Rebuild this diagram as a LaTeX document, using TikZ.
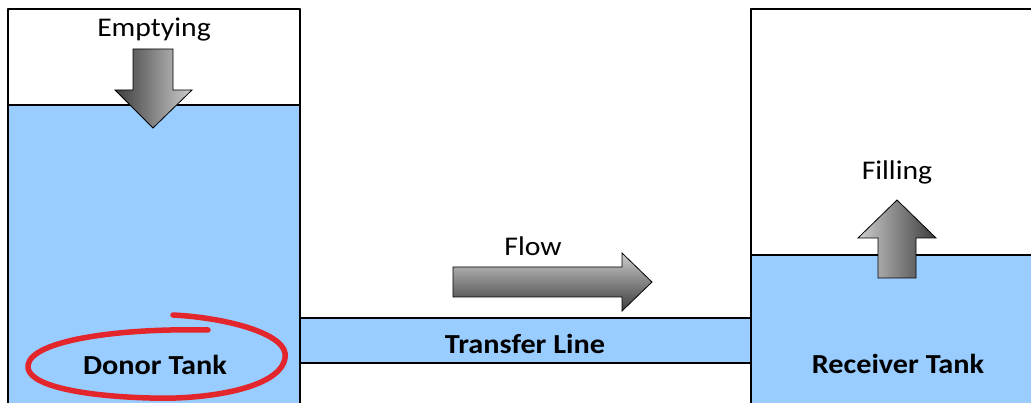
\documentclass[tikz,border=0pt]{standalone}
\usepackage{fontspec}
\setmainfont{Carlito}[FakeStretch=1.1]
\definecolor{water}{HTML}{99CCFF}
\definecolor{ringred}{HTML}{E3262B}
\definecolor{shadedark}{HTML}{3C3C3C}
\definecolor{shadelight}{HTML}{CDCDCD}
\tikzset{
  tankwall/.style={draw=black, line width=1.4pt},
  fatarrow/.style={draw=black, line width=0.8pt, line join=miter},
  label/.style={font=\fontsize{27}{31}\selectfont, anchor=base, inner sep=0pt},
  tankname/.style={font=\fontsize{27.5}{31}\selectfont\bfseries, anchor=base, inner sep=0pt}
}
\begin{document}
\begin{tikzpicture}[x=1pt,y=1pt,line join=round,line cap=round]
  \clip (0,0) rectangle (1031,402);
  \fill[white] (0,0) rectangle (1031,402);
  % donor tank
  \fill[water] (8,-10) rectangle (300,297);
  \draw[tankwall] (8,297) -- (300,297);
  \draw[tankwall] (8,-10) rectangle (300,393);
  % receiver tank
  \fill[water] (751,-10) rectangle (1040,147);
  \draw[tankwall] (751,147) -- (1040,147);
  \draw[tankwall] (751,-10) rectangle (1040,393);
  % transfer line
  \fill[water] (300,39) rectangle (751,84);
  \draw[tankwall] (300,84) -- (751,84) (300,39) -- (751,39);
  \draw[tankwall] (300,-10) -- (300,393) (751,-10) -- (751,393);
  % big arrows
  \draw[fatarrow, left color=shadedark, right color=shadelight]
    (133,353) -- (173,353) -- (173,312) -- (192,312) -- (153,274) -- (115,312) -- (133,312) -- cycle;
  \draw[fatarrow, top color=shadelight, bottom color=shadedark]
    (453,135) -- (622,135) -- (622,149) -- (652,120) -- (622,91) -- (622,105) -- (453,105) -- cycle;
  \draw[fatarrow, left color=shadelight, right color=shadedark]
    (878,124) -- (916,124) -- (916,164) -- (936,164) -- (897,202) -- (858,164) -- (878,164) -- cycle;
  % texts
  \node[label] (emptying) at (154,365) {Emptying};
  \node[label] (flow) at (533,146) {Flow};
  \node[label] (filling) at (897,222) {Filling};
  \node[tankname] (donor) at (155,28) {Donor Tank};
  \node[tankname] (transfer) at (525,49) {Transfer Line};
  \node[tankname] (receiver) at (898,29) {Receiver Tank};
  % hand drawn ring
  \draw[ringred, line width=5.5pt]
    (173,87) .. controls (230,84) and (290,67) .. (285,44)
    .. controls (280,12) and (200,2) .. (150,4)
    .. controls (80,6) and (25,17) .. (28,37)
    .. controls (32,62) and (120,74) .. (208,72);
\end{tikzpicture}
\end{document}
